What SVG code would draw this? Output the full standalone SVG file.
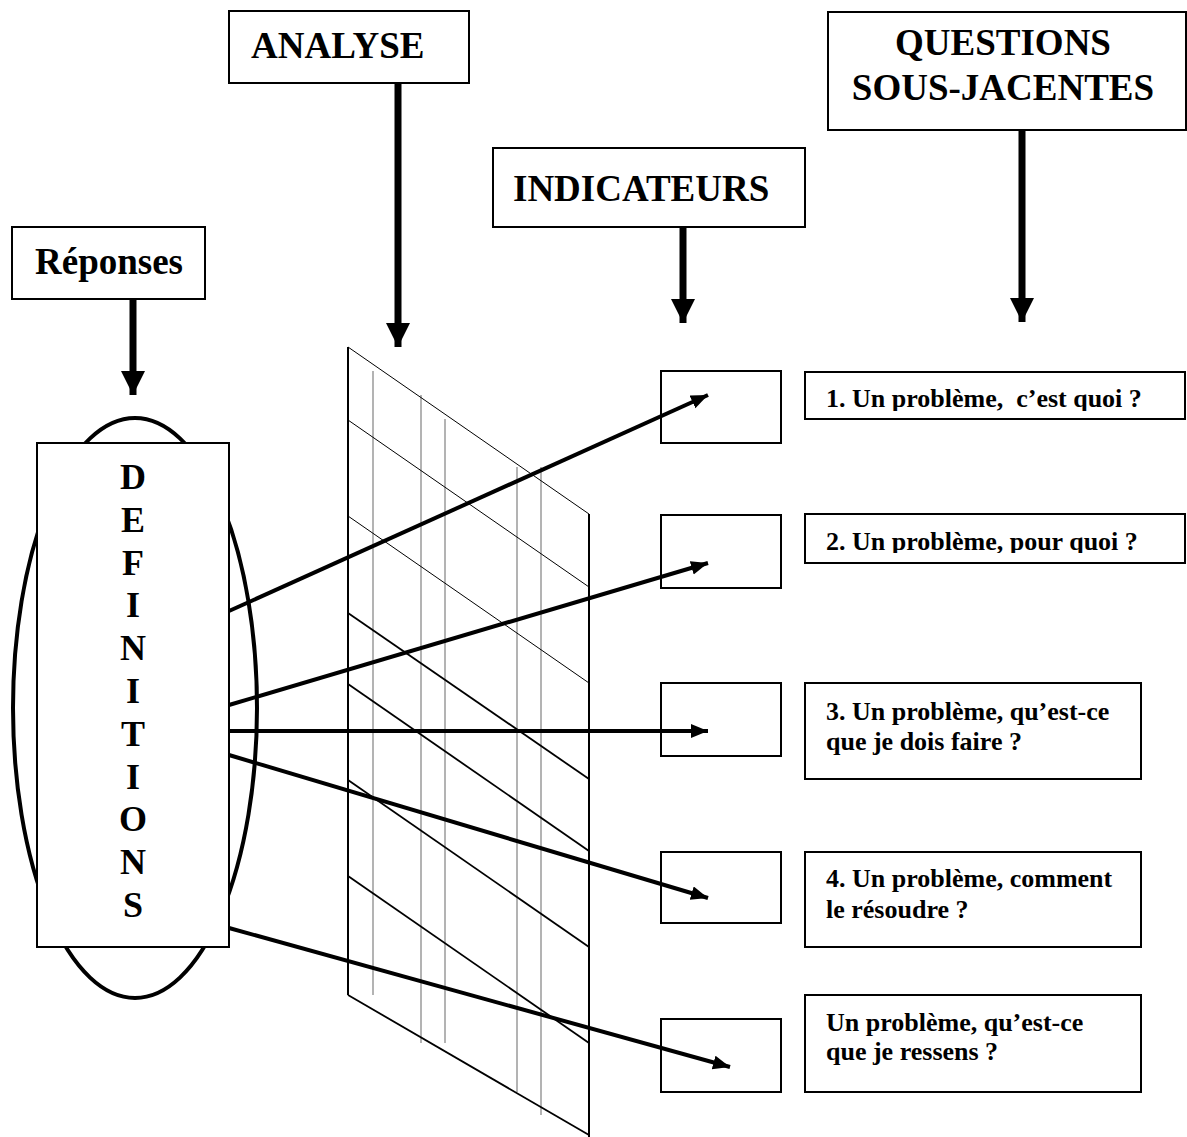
<svg xmlns="http://www.w3.org/2000/svg" width="1187" height="1137" viewBox="0 0 1187 1137">
<style>
.box{fill:#fff;stroke:#000;stroke-width:2}
.hd{font-family:"Liberation Serif","Times New Roman",serif;font-weight:bold;font-size:37px;fill:#000}
.q{font-family:"Liberation Serif","Times New Roman",serif;font-weight:bold;font-size:26px;fill:#000}
.lt{font-family:"Liberation Serif","Times New Roman",serif;font-weight:bold;font-size:36px;fill:#000}
.thick{stroke:#000;stroke-width:7;fill:none}
.conn{stroke:#000;stroke-width:4;fill:none}
.gv{stroke:#808080;stroke-width:1.2}
.gd1{stroke:#000;stroke-width:1}
.gd2{stroke:#000;stroke-width:1.8}
.ge{stroke:#000;stroke-width:2}
</style>
<defs>
<marker id="hv" markerUnits="userSpaceOnUse" markerWidth="24" markerHeight="26" refX="24" refY="12" orient="auto">
<path d="M0,0 L24,12 L0,24 Z" fill="#000"/>
</marker>
<marker id="hd" markerUnits="userSpaceOnUse" markerWidth="18" markerHeight="16" refX="17" refY="7" orient="auto">
<path d="M0,0 L17,7 L0,14 Z" fill="#000"/>
</marker>
<clipPath id="c1"><rect x="805" y="372" width="382" height="39"/></clipPath>
<clipPath id="c2"><rect x="805" y="514" width="382" height="39"/></clipPath>
</defs>

<g id="grid">
<line class="ge" x1="348" y1="347" x2="348" y2="995"/>
<line class="ge" x1="589" y1="514" x2="589" y2="1137"/>
<line class="gv" x1="373" y1="371" x2="373" y2="995"/>
<line class="gv" x1="421" y1="395" x2="421" y2="1043"/>
<line class="gv" x1="445" y1="419" x2="445" y2="1043"/>
<line class="gv" x1="517" y1="467" x2="517" y2="1092"/>
<line class="gv" x1="541" y1="467" x2="541" y2="1115"/>
<line class="gd1" x1="348" y1="347" x2="589" y2="514"/>
<line class="gd1" x1="348" y1="420" x2="589" y2="587"/>
<line class="gd1" x1="348" y1="516" x2="589" y2="683"/>
<line class="gd2" x1="348" y1="613" x2="589" y2="779"/>
<line class="gd2" x1="348" y1="684" x2="589" y2="851"/>
<line class="gd2" x1="348" y1="780" x2="589" y2="947"/>
<line class="gd2" x1="348" y1="876" x2="589" y2="1043"/>
<line class="gd2" x1="348" y1="995" x2="589" y2="1135"/>
</g>

<g id="definitions">
<ellipse cx="135" cy="708" rx="122" ry="290" fill="none" stroke="#000" stroke-width="4"/>
<rect class="box" x="37" y="443" width="192" height="504"/>
<g class="lt" text-anchor="middle">
<text x="133" y="489">D</text>
<text x="133" y="532">E</text>
<text x="133" y="575">F</text>
<text x="133" y="617">I</text>
<text x="133" y="660">N</text>
<text x="133" y="703">I</text>
<text x="133" y="746">T</text>
<text x="133" y="789">I</text>
<text x="133" y="831">O</text>
<text x="133" y="874">N</text>
<text x="133" y="917">S</text>
</g>
</g>

<g id="analyse">
<rect class="box" x="229" y="11" width="240" height="72"/>
<text class="hd" x="251" y="58">ANALYSE</text>
</g>
<g id="questions-sous-jacentes">
<rect class="box" x="828" y="12" width="358" height="118"/>
<text class="hd" x="1003" y="55" text-anchor="middle">QUESTIONS</text>
<text class="hd" x="1003" y="100" text-anchor="middle">SOUS-JACENTES</text>
</g>
<g id="indicateurs">
<rect class="box" x="493" y="148" width="312" height="79"/>
<text class="hd" x="513" y="201">INDICATEURS</text>
</g>
<g id="reponses">
<rect class="box" x="12" y="227" width="193" height="72"/>
<text class="hd" x="35" y="274">Réponses</text>
</g>

<g id="ind1"><rect class="box" x="661" y="371" width="120" height="72"/></g>
<g id="ind2"><rect class="box" x="661" y="515" width="120" height="73"/></g>
<g id="ind3"><rect class="box" x="661" y="683" width="120" height="73"/></g>
<g id="ind4"><rect class="box" x="661" y="852" width="120" height="71"/></g>
<g id="ind5"><rect class="box" x="661" y="1019" width="120" height="73"/></g>

<g id="q1">
<rect class="box" x="805" y="372" width="380" height="47"/>
<text class="q" x="826" y="407" clip-path="url(#c1)" xml:space="preserve">1. Un problème,  c’est quoi ?</text>
</g>
<g id="q2">
<rect class="box" x="805" y="514" width="380" height="49"/>
<text class="q" x="826" y="550" clip-path="url(#c2)">2. Un problème, pour quoi ?</text>
</g>
<g id="q3">
<rect class="box" x="805" y="683" width="336" height="96"/>
<text class="q" x="826" y="720">3. Un problème, qu’est-ce</text>
<text class="q" x="826" y="750">que je dois faire ?</text>
</g>
<g id="q4">
<rect class="box" x="805" y="852" width="336" height="95"/>
<text class="q" x="826" y="887">4. Un problème, comment</text>
<text class="q" x="826" y="918">le résoudre ?</text>
</g>
<g id="q5">
<rect class="box" x="805" y="995" width="336" height="97"/>
<text class="q" x="826" y="1031">Un problème, qu’est-ce</text>
<text class="q" x="826" y="1060">que je ressens ?</text>
</g>

<g id="connectors">
<line class="thick" x1="398" y1="83" x2="398" y2="347" marker-end="url(#hv)"/>
<line class="thick" x1="683" y1="227" x2="683" y2="323" marker-end="url(#hv)"/>
<line class="thick" x1="1022" y1="130" x2="1022" y2="322" marker-end="url(#hv)"/>
<line class="thick" x1="133" y1="299" x2="133" y2="395" marker-end="url(#hv)"/>
<line class="conn" x1="229" y1="611" x2="708" y2="395" marker-end="url(#hd)"/>
<line class="conn" x1="229" y1="705" x2="708" y2="563" marker-end="url(#hd)"/>
<line class="conn" x1="229" y1="731" x2="708" y2="731" marker-end="url(#hd)"/>
<line class="conn" x1="229" y1="755" x2="708" y2="898" marker-end="url(#hd)"/>
<line class="conn" x1="229" y1="928" x2="730" y2="1067" marker-end="url(#hd)"/>
</g>
</svg>
